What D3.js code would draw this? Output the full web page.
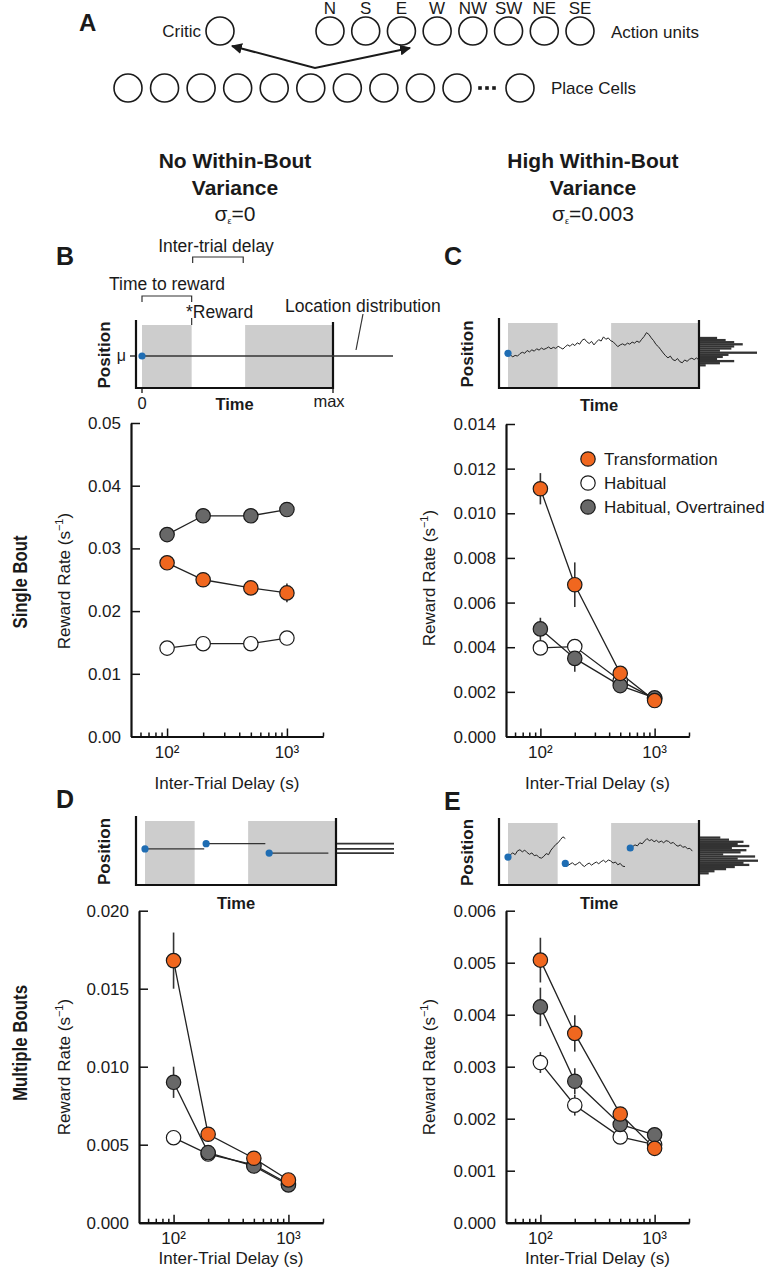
<!DOCTYPE html>
<html>
<head>
<meta charset="utf-8">
<script src="https://cdn.jsdelivr.net/npm/d3@7/dist/d3.min.js"></script>
<style>
html,body{margin:0;padding:0;background:#fff;}
svg{display:block;font-family:"Liberation Sans",Arial,Helvetica,sans-serif;}
text{fill:#1a1a1a;}
</style>
</head>
<body>
<svg id="fig" width="771" height="1280" viewBox="0 0 771 1280"></svg>
<script>
// ================= DATA =================
const delays = [100, 200, 500, 1000];
const seriesNames = ["Transformation", "Habitual", "Habitual, Overtrained"];
const seriesColors = ["#f0671f", "#ffffff", "#686868"];
const xDomain = [50, 2000];
const xMajorTicks = [100, 1000];
const xTickLabels = ["10²", "10³"];
const xMinorTicks = [60, 70, 80, 90, 200, 300, 400, 500, 600, 700, 800, 900, 2000];

// Panel B: single bout, no within-bout variance
const B_transformation = [0.0277, 0.0250, 0.0237, 0.0229];
const B_transformation_err = [0.0005, 0.0005, 0.0007, 0.0015];
const B_habitual = [0.0141, 0.0148, 0.0148, 0.0157];
const B_habitual_err = [0.0003, 0.0003, 0.0003, 0.0003];
const B_overtrained = [0.0322, 0.0352, 0.0352, 0.0362];
const B_overtrained_err = [0.0004, 0.0004, 0.0004, 0.0004];
const B_yTicks = [0, 0.01, 0.02, 0.03, 0.04, 0.05];
const B_yTickLabels = ["0.00", "0.01", "0.02", "0.03", "0.04", "0.05"];

// Panel C: single bout, high within-bout variance
const C_transformation = [0.0111, 0.0068, 0.00283, 0.00161];
const C_transformation_err = [0.0007, 0.0010, 0.0002, 0.0001];
const C_habitual = [0.00397, 0.00403, 0.0025, 0.0017];
const C_habitual_err = [0.0002, 0.0002, 0.0001, 0.0001];
const C_overtrained = [0.00482, 0.0035, 0.00228, 0.00173];
const C_overtrained_err = [0.0005, 0.0006, 0.0002, 0.0001];
const C_yTicks = [0, 0.002, 0.004, 0.006, 0.008, 0.010, 0.012, 0.014];
const C_yTickLabels = ["0.000", "0.002", "0.004", "0.006", "0.008", "0.010", "0.012", "0.014"];

// Panel D: multiple bouts, no within-bout variance
const D_transformation = [0.0168, 0.00567, 0.00413, 0.00274];
const D_transformation_err = [0.0018, 0.0003, 0.0002, 0.0002];
const D_habitual = [0.00545, 0.0044, 0.0037, 0.0025];
const D_habitual_err = [0.0002, 0.0002, 0.0002, 0.0002];
const D_overtrained = [0.0090, 0.00449, 0.00363, 0.00242];
const D_overtrained_err = [0.0010, 0.0004, 0.0002, 0.0002];
const D_yTicks = [0, 0.005, 0.010, 0.015, 0.020];
const D_yTickLabels = ["0.000", "0.005", "0.010", "0.015", "0.020"];

// Panel E: multiple bouts, high within-bout variance
const E_transformation = [0.00505, 0.00364, 0.00209, 0.00143];
const E_transformation_err = [0.00043, 0.00035, 0.0001, 0.0001];
const E_habitual = [0.00308, 0.00226, 0.00165, 0.0015];
const E_habitual_err = [0.0002, 0.0002, 0.0001, 0.0001];
const E_overtrained = [0.00415, 0.00272, 0.00189, 0.00169];
const E_overtrained_err = [0.00037, 0.00025, 0.0001, 0.0001];
const E_yTicks = [0, 0.001, 0.002, 0.003, 0.004, 0.005, 0.006];
const E_yTickLabels = ["0.000", "0.001", "0.002", "0.003", "0.004", "0.005", "0.006"];

// Panel A network diagram
const actionUnits = ["N", "S", "E", "W", "NW", "SW", "NE", "SE"];
const placeCells = [1, 2, 3, 4, 5, 6, 7, 8, 9, 10];

// Schematic timelines (time 0..100, position in arbitrary units)
const trialWindows = [[0, 26], [54, 100]];
const traceStep = 1.25;
const C_trace = [0.2, -0.3, -0.8, -0.4, -0.6, 0.1, 0.5, 0.2, 1.0, 0.6, 1.2, 0.8, 1.5, 1.1, 1.7, 1.3, 1.6, 2.0, 1.5, 1.9,
  1.6, 2.2, 1.8, 1.4, 2.1, 2.6, 2.2, 2.9, 2.4, 3.2, 2.8, 3.9, 4.3, 3.5, 3.0, 3.6, 2.6, 3.4, 4.1, 3.7,
  4.9, 4.2, 4.6, 3.8, 3.5, 2.8, 2.1, 2.6, 2.9, 2.5, 3.1, 2.8, 3.4, 3.1, 3.7, 3.3, 4.2, 5.0, 6.1, 5.6,
  4.6, 3.8, 2.7, 2.1, 1.2, 0.3, -0.5, -1.1, -0.6, -1.6, -1.9, -1.3, -2.2, -2.5, -1.7, -2.1, -1.5, -1.2, -1.6, -1.1, -1.8];
const C_histTop = 4.9;
const C_histCounts = [6, 9, 12, 15, 12, 11, 7, 20, 10, 8, 6, 12, 7, 2];
const D_bouts = [{start: 0, end: 31, pos: 0.6}, {start: 32, end: 63, pos: 2.1}, {start: 65, end: 96, pos: -0.6}];
const E_boutStarts = [0, 30, 64];
const E_bouts = [
  [-1.6, -0.9, -0.4, -0.9, 0.2, 0.5, -0.1, 0.4, -0.3, -0.8, -0.4, -1.2, -1.0, -1.7, -1.9, -1.4, -0.6, -0.9, 0.4, 1.2, 2.0, 2.5, 3.4, 4.2, 3.7],
  [-3.4, -4.0, -3.6, -3.2, -3.9, -3.5, -3.0, -3.8, -4.3, -3.7, -3.3, -3.9, -3.4, -3.0, -3.5, -2.9, -2.5, -3.1, -2.4, -2.7, -3.3, -3.0, -3.8, -3.4, -4.2, -4.3],
  [1.0, 1.4, 1.9, 1.6, 2.5, 2.2, 3.0, 3.7, 3.1, 3.4, 2.8, 3.2, 2.6, 3.0, 2.5, 3.1, 2.9, 2.3, 2.6, 1.9, 1.5, 1.9, 1.2, 1.4, 0.8, 0.9, 0.1]
];
const E_histTop = 4.3;
const E_histCounts = [7, 10, 15, 13, 17, 11, 16, 14, 8, 19, 13, 20, 15, 17, 12, 9, 5, 3];
const histBin = 0.6;

// ================= DRAWING =================
const svg = d3.select("#fig");
const INK = "#1a1a1a";
const FS = 17;

function txt(g, x, y, s, opt = {}) {
  const t = g.append("text").attr("x", x).attr("y", y).text(s)
    .attr("font-size", opt.size || FS)
    .attr("text-anchor", opt.anchor || "start");
  if (opt.bold) t.attr("font-weight", "bold");
  if (opt.rotate) t.attr("transform", `rotate(-90,${x},${y})`);
  if (opt.family) t.attr("font-family", opt.family);
  if (opt.baseline) t.attr("dominant-baseline", opt.baseline);
  return t;
}

// ---------- Panel A ----------
(function panelA() {
  const g = svg.append("g");
  txt(g, 79, 31, "A", {size: 24, bold: true});
  const r = 14;
  g.append("circle").attr("cx", 220).attr("cy", 31).attr("r", r)
    .attr("fill", "none").attr("stroke", INK).attr("stroke-width", 1.6);
  txt(g, 201, 37, "Critic", {anchor: "end"});
  const xa = d3.scalePoint().domain(actionUnits).range([330, 580]);
  g.selectAll(".au").data(actionUnits).join("circle")
    .attr("cx", d => xa(d)).attr("cy", 31).attr("r", r)
    .attr("fill", "none").attr("stroke", INK).attr("stroke-width", 1.6);
  g.selectAll(".aul").data(actionUnits).join("text")
    .attr("x", d => xa(d)).attr("y", 14).attr("text-anchor", "middle")
    .attr("font-size", FS).text(d => d);
  txt(g, 611, 38, "Action units");
  const xp = d3.scalePoint().domain(placeCells).range([128, 457]);
  g.selectAll(".pc").data(placeCells).join("circle")
    .attr("cx", d => xp(d)).attr("cy", 88).attr("r", r)
    .attr("fill", "none").attr("stroke", INK).attr("stroke-width", 1.6);
  [480, 487, 494].forEach(x => g.append("rect").attr("x", x - 1.8).attr("y", 86.2)
    .attr("width", 3.6).attr("height", 3.6).attr("fill", INK));
  g.append("circle").attr("cx", 520).attr("cy", 88).attr("r", r)
    .attr("fill", "none").attr("stroke", INK).attr("stroke-width", 1.6);
  txt(g, 551, 94, "Place Cells");
  const defs = svg.append("defs");
  defs.append("marker").attr("id", "ah").attr("viewBox", "0 0 10 10")
    .attr("refX", 9).attr("refY", 5).attr("markerWidth", 5.5).attr("markerHeight", 5.5)
    .attr("orient", "auto-start-reverse")
    .append("path").attr("d", "M0,0 L10,5 L0,10 Z").attr("fill", INK);
  g.append("path").attr("d", "M232,46 L315,68 L410,48")
    .attr("fill", "none").attr("stroke", INK).attr("stroke-width", 2)
    .attr("marker-start", "url(#ah)").attr("marker-end", "url(#ah)");
})();

// ---------- Column titles ----------
function sigmaLine(x, y, val) {
  const t = svg.append("text").attr("x", x).attr("y", y).attr("text-anchor", "middle").attr("font-size", 21);
  t.append("tspan").text("σ");
  t.append("tspan").attr("font-size", 9).attr("dy", 3).text("ε");
  t.append("tspan").attr("dy", -3).text("=" + val);
}
txt(svg, 235, 168, "No Within-Bout", {size: 21, bold: true, anchor: "middle"});
txt(svg, 235, 195, "Variance", {size: 21, bold: true, anchor: "middle"});
sigmaLine(235, 221, "0");
txt(svg, 593, 168, "High Within-Bout", {size: 21, bold: true, anchor: "middle"});
txt(svg, 593, 195, "Variance", {size: 21, bold: true, anchor: "middle"});
sigmaLine(593, 221, "0.003");

// panel letters
txt(svg, 56, 265, "B", {size: 25, bold: true});
txt(svg, 444, 265, "C", {size: 25, bold: true});
txt(svg, 56, 808, "D", {size: 25, bold: true});
txt(svg, 444, 810, "E", {size: 25, bold: true});

// row labels (narrow bold, emulated by compressing glyphs)
txt(svg, 27, 582, "Single Bout", {size: 21, bold: true, anchor: "middle", rotate: true})
  .attr("textLength", 93).attr("lengthAdjust", "spacingAndGlyphs");
txt(svg, 27, 1043, "Multiple Bouts", {size: 21, bold: true, anchor: "middle", rotate: true})
  .attr("textLength", 116).attr("lengthAdjust", "spacingAndGlyphs");

// ---------- Schematics ----------
function schematic(cfg) {
  const g = svg.append("g");
  const xs = d3.scaleLinear().domain([0, 100]).range([cfg.tx0, cfg.x1]);
  const ys = d3.scaleLinear().domain([-10, 10]).range([cfg.center + 35, cfg.center - 35]);
  g.selectAll("rect.win").data(trialWindows).join("rect")
    .attr("x", d => xs(d[0])).attr("width", d => xs(d[1]) - xs(d[0]))
    .attr("y", cfg.top + 5).attr("height", cfg.bottom - cfg.top - 6)
    .attr("fill", "#cdcdcd");
  g.append("path").attr("d", `M${cfg.x0},${cfg.top} V${cfg.bottom} H${cfg.x1} V${cfg.top + 2}`)
    .attr("fill", "none").attr("stroke", "#111").attr("stroke-width", 2.2);
  txt(g, (cfg.x0 + cfg.x1) / 2, cfg.timeY, "Time", {bold: true, anchor: "middle", size: 16.5});
  txt(g, cfg.x0 - 32, (cfg.top + cfg.bottom) / 2 + 1, "Position", {bold: true, anchor: "middle", rotate: true, size: 17, baseline: "central"});
  return {g, xs, ys};
}
const line = (xs, ys) => d3.line().x(d => xs(d[0])).y(d => ys(d[1]));
const BLUE = "#1f6db3";

// B schematic
(function() {
  const cfg = {x0: 136, x1: 333, tx0: 142, top: 320, bottom: 388, center: 356, timeY: 410};
  const {g, xs, ys} = schematic(cfg);
  g.append("path").datum([[0, 0], [100, 0]]).attr("d", line(xs, ys))
    .attr("stroke", "#333").attr("stroke-width", 1.4).attr("fill", "none");
  g.append("line").attr("x1", cfg.x1).attr("x2", cfg.x1 + 60).attr("y1", ys(0)).attr("y2", ys(0))
    .attr("stroke", "#333").attr("stroke-width", 1.6);
  g.append("circle").attr("cx", xs(0)).attr("cy", ys(0)).attr("r", 3.6).attr("fill", BLUE);
  g.append("line").attr("x1", cfg.x0 - 6).attr("x2", cfg.x0).attr("y1", ys(0)).attr("y2", ys(0)).attr("stroke", "#111").attr("stroke-width", 1.3);
  [0, 100].forEach(t => g.append("line").attr("x1", xs(t)).attr("x2", xs(t)).attr("y1", cfg.bottom).attr("y2", cfg.bottom + 5).attr("stroke", "#111").attr("stroke-width", 1.3));
  txt(g, cfg.x0 - 10, ys(0) + 5, "μ", {anchor: "end", size: 16});
  txt(g, xs(0), 409, "0", {anchor: "middle", size: 16.5});
  txt(g, xs(100) - 4, 407, "max", {anchor: "middle", size: 16.5});
  const a = g.append("g").attr("stroke", "#333").attr("stroke-width", 1.2).attr("fill", "none");
  a.append("path").attr("d", `M${xs(0)},302 V296 H${xs(26)} V302`);
  a.append("path").attr("d", `M${xs(26) + 1},263 V257 H${xs(53)} V263`);
  a.append("line").attr("x1", xs(26)).attr("x2", xs(26)).attr("y1", 318).attr("y2", 325);
  a.append("line").attr("x1", 363).attr("y1", 314).attr("x2", 356).attr("y2", 350);
  txt(g, 167, 290, "Time to reward", {anchor: "middle", size: 17.5});
  txt(g, 216, 252, "Inter-trial delay", {anchor: "middle", size: 17.5});
  txt(g, 186, 318, "*Reward", {size: 17.5});
  txt(g, 285, 312, "Location distribution", {size: 17.5});
})();

// C schematic
(function() {
  const cfg = {x0: 499, x1: 699, tx0: 508, top: 318, bottom: 388, center: 354, timeY: 411};
  const {g, xs, ys} = schematic(cfg);
  const pts = C_trace.map((v, i) => [i * traceStep, v]);
  g.append("path").datum(pts).attr("d", line(xs, ys)).attr("stroke", "#222").attr("stroke-width", 1).attr("fill", "none");
  g.append("circle").attr("cx", xs(0)).attr("cy", ys(C_trace[0])).attr("r", 3.6).attr("fill", BLUE);
  const hx = d3.scaleLinear().domain([0, 20]).range([0, 57]);
  g.selectAll("rect.h").data(C_histCounts).join("rect")
    .attr("x", cfg.x1 + 1).attr("width", d => hx(d))
    .attr("y", (d, i) => ys(C_histTop - i * histBin)).attr("height", ys(0) - ys(histBin) + 0.2)
    .attr("fill", "#333");
})();

// D schematic
(function() {
  const cfg = {x0: 136, x1: 336, tx0: 145, top: 816, bottom: 885, center: 851, timeY: 909};
  const {g, xs, ys} = schematic(cfg);
  D_bouts.forEach(b => {
    g.append("path").datum([[b.start, b.pos], [b.end, b.pos]]).attr("d", line(xs, ys))
      .attr("stroke", "#333").attr("stroke-width", 1.4).attr("fill", "none");
    g.append("line").attr("x1", cfg.x1 + 1).attr("x2", cfg.x1 + 58).attr("y1", ys(b.pos)).attr("y2", ys(b.pos))
      .attr("stroke", "#333").attr("stroke-width", 1.6);
  });
  D_bouts.forEach(b => g.append("circle").attr("cx", xs(b.start)).attr("cy", ys(b.pos)).attr("r", 3.6).attr("fill", BLUE));
})();

// E schematic
(function() {
  const cfg = {x0: 499, x1: 699, tx0: 508, top: 818, bottom: 885, center: 851.5, timeY: 909};
  const {g, xs, ys} = schematic(cfg);
  E_bouts.forEach((vals, k) => {
    const pts = vals.map((v, i) => [E_boutStarts[k] + i * traceStep, v]);
    g.append("path").datum(pts).attr("d", line(xs, ys)).attr("stroke", "#222").attr("stroke-width", 1).attr("fill", "none");
  });
  E_bouts.forEach((vals, k) => g.append("circle").attr("cx", xs(E_boutStarts[k])).attr("cy", ys(vals[0])).attr("r", 3.6).attr("fill", BLUE));
  const hx = d3.scaleLinear().domain([0, 20]).range([0, 58]);
  g.selectAll("rect.h").data(E_histCounts).join("rect")
    .attr("x", cfg.x1 + 1).attr("width", d => hx(d))
    .attr("y", (d, i) => ys(E_histTop - i * histBin)).attr("height", ys(0) - ys(histBin) + 0.2)
    .attr("fill", "#333");
})();

// ---------- Reward-rate plots ----------
function ratePlot(cfg) {
  const g = svg.append("g");
  const x = d3.scaleLog().domain(xDomain).range([cfg.ax, cfg.xr]);
  const y = d3.scaleLinear().domain([0, cfg.yTicks[cfg.yTicks.length - 1]]).range([cfg.y0, cfg.yTop]);
  const ya = g.append("g").attr("transform", `translate(${cfg.ax},0)`)
    .call(d3.axisRight(y).tickValues(cfg.yTicks).tickSize(9).tickSizeOuter(0).tickFormat(""));
  const xaMaj = g.append("g").attr("transform", `translate(0,${cfg.y0})`)
    .call(d3.axisTop(x).tickValues(xMajorTicks).tickSize(8).tickSizeOuter(0).tickFormat(""));
  const xaMin = g.append("g").attr("transform", `translate(0,${cfg.y0})`)
    .call(d3.axisTop(x).tickValues(xMinorTicks).tickSize(4).tickSizeOuter(0).tickFormat(""));
  [ya, xaMaj, xaMin].forEach(a => {
    a.select(".domain").attr("stroke", "#111").attr("stroke-width", 2.2);
    a.selectAll(".tick line").attr("stroke", "#111").attr("stroke-width", 1.5);
  });
  g.selectAll("text.yl").data(cfg.yTicks).join("text")
    .attr("x", cfg.ax - 10).attr("y", d => y(d) + 6).attr("text-anchor", "end")
    .attr("font-size", FS).text((d, i) => cfg.yTickLabels[i]);
  g.selectAll("text.xl").data(xMajorTicks).join("text")
    .attr("x", d => x(d)).attr("y", cfg.y0 + 21).attr("text-anchor", "middle")
    .attr("font-size", FS).text((d, i) => xTickLabels[i]);
  txt(g, (cfg.ax + cfg.xr) / 2, cfg.xTitleY, "Inter-Trial Delay (s)", {anchor: "middle"});
  const yt = g.append("text").attr("transform", `translate(${cfg.yTitleX},${cfg.yTitleY}) rotate(-90)`)
    .attr("text-anchor", "middle").attr("font-size", FS);
  yt.append("tspan").text("Reward Rate (s");
  yt.append("tspan").attr("font-size", 11).attr("dy", -7).text("−1");
  yt.append("tspan").attr("dy", 7).text(")");

  const series = cfg.series;
  const lineGen = d3.line().x(d => x(d.x)).y(d => y(d.y));
  series.forEach(s => {
    const pts = delays.map((d, i) => ({x: d, y: s.v[i], e: s.e[i]}));
    g.append("path").datum(pts).attr("d", lineGen).attr("fill", "none")
      .attr("stroke", "#222").attr("stroke-width", 1.3);
    g.selectAll(null).data(pts).join("line")
      .attr("x1", d => x(d.x)).attr("x2", d => x(d.x))
      .attr("y1", d => y(d.y - d.e)).attr("y2", d => y(d.y + d.e))
      .attr("stroke", "#333").attr("stroke-width", 1.6);
  });
  [1, 2, 0].forEach(k => {
    const s = series[k];
    g.selectAll(null).data(delays.map((d, i) => ({x: d, y: s.v[i]}))).join("circle")
      .attr("cx", d => x(d.x)).attr("cy", d => y(d.y)).attr("r", 7.2)
      .attr("fill", seriesColors[k]).attr("stroke", "#1a1a1a").attr("stroke-width", 1.2);
  });
  return {g, x, y};
}

ratePlot({ax: 131, xr: 323, y0: 736.5, yTop: 423, yTicks: B_yTicks, yTickLabels: B_yTickLabels,
  xTitleY: 789, yTitleX: 70, yTitleY: 581,
  series: [{v: B_transformation, e: B_transformation_err}, {v: B_habitual, e: B_habitual_err}, {v: B_overtrained, e: B_overtrained_err}]});

ratePlot({ax: 506, xr: 689, y0: 736.5, yTop: 424, yTicks: C_yTicks, yTickLabels: C_yTickLabels,
  xTitleY: 789, yTitleX: 435, yTitleY: 578,
  series: [{v: C_transformation, e: C_transformation_err}, {v: C_habitual, e: C_habitual_err}, {v: C_overtrained, e: C_overtrained_err}]});

ratePlot({ax: 139, xr: 323, y0: 1222.7, yTop: 910.7, yTicks: D_yTicks, yTickLabels: D_yTickLabels,
  xTitleY: 1264, yTitleX: 70, yTitleY: 1067,
  series: [{v: D_transformation, e: D_transformation_err}, {v: D_habitual, e: D_habitual_err}, {v: D_overtrained, e: D_overtrained_err}]});

ratePlot({ax: 506, xr: 689, y0: 1222.7, yTop: 910.7, yTicks: E_yTicks, yTickLabels: E_yTickLabels,
  xTitleY: 1264, yTitleX: 435, yTitleY: 1067,
  series: [{v: E_transformation, e: E_transformation_err}, {v: E_habitual, e: E_habitual_err}, {v: E_overtrained, e: E_overtrained_err}]});

// legend (panel C)
(function() {
  const g = svg.append("g");
  const ly = d3.scalePoint().domain(seriesNames).range([459, 507]);
  g.selectAll("circle").data(seriesNames).join("circle")
    .attr("cx", 588).attr("cy", d => ly(d)).attr("r", 7.2)
    .attr("fill", (d, i) => seriesColors[i]).attr("stroke", "#1a1a1a").attr("stroke-width", 1.2);
  g.selectAll("text").data(seriesNames).join("text")
    .attr("x", 604).attr("y", d => ly(d) + 6).attr("font-size", FS).text(d => d);
})();
</script>
</body>
</html>
